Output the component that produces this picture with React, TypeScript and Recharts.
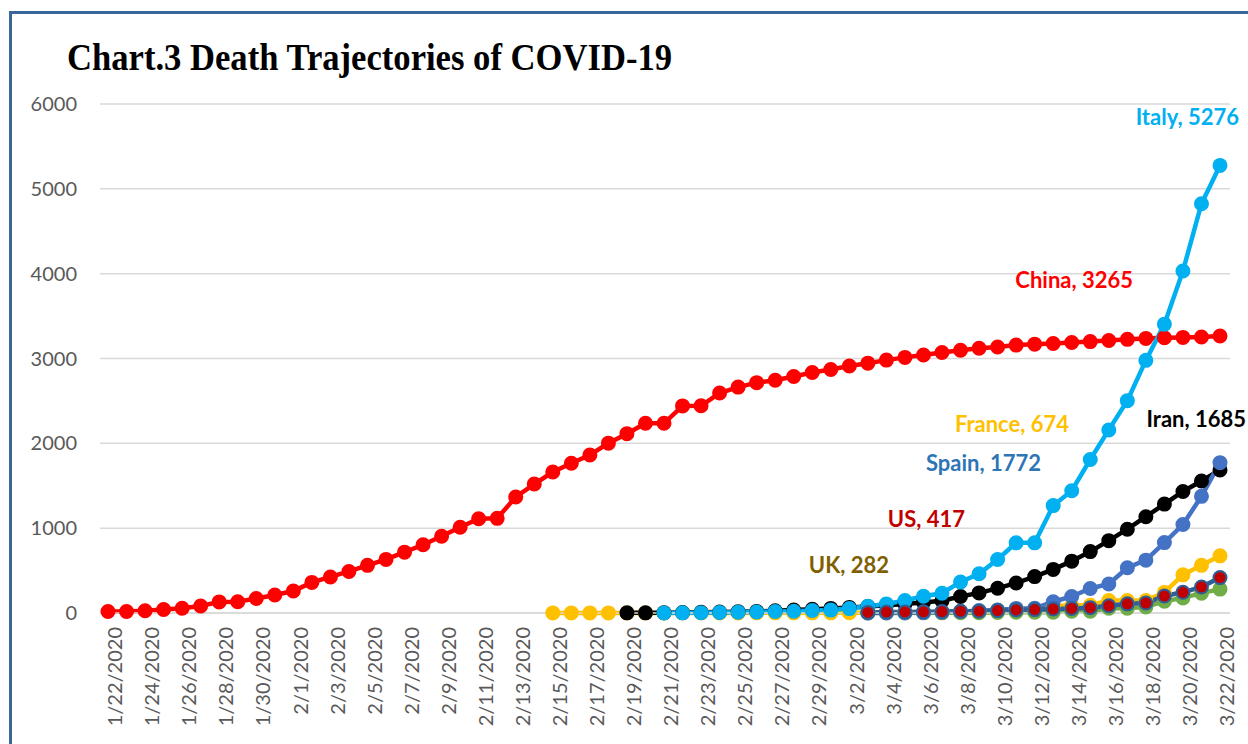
import { LineChart, Line, XAxis, YAxis, CartesianGrid, LabelList } from "recharts";

const DATES = [
  "1/22/2020", "1/23/2020", "1/24/2020", "1/25/2020", "1/26/2020", "1/27/2020", "1/28/2020", "1/29/2020", "1/30/2020", "1/31/2020",
  "2/1/2020", "2/2/2020", "2/3/2020", "2/4/2020", "2/5/2020", "2/6/2020", "2/7/2020", "2/8/2020", "2/9/2020", "2/10/2020",
  "2/11/2020", "2/12/2020", "2/13/2020", "2/14/2020", "2/15/2020", "2/16/2020", "2/17/2020", "2/18/2020", "2/19/2020", "2/20/2020",
  "2/21/2020", "2/22/2020", "2/23/2020", "2/24/2020", "2/25/2020", "2/26/2020", "2/27/2020", "2/28/2020", "2/29/2020",
  "3/1/2020", "3/2/2020", "3/3/2020", "3/4/2020", "3/5/2020", "3/6/2020", "3/7/2020", "3/8/2020", "3/9/2020", "3/10/2020",
  "3/11/2020", "3/12/2020", "3/13/2020", "3/14/2020", "3/15/2020", "3/16/2020", "3/17/2020", "3/18/2020", "3/19/2020", "3/20/2020",
  "3/21/2020", "3/22/2020",
];

const Y_TICKS = [0, 1000, 2000, 3000, 4000, 5000, 6000];

// from 1/22
const CHINA = [
  17, 18, 26, 42, 56, 82, 131, 133, 171, 213,
  259, 361, 425, 490, 562, 632, 717, 804, 904, 1011,
  1111, 1116, 1368, 1520, 1662, 1765, 1863, 2002, 2114, 2236,
  2236, 2441, 2443, 2593, 2663, 2715, 2744, 2788, 2835,
  2870, 2912, 2945, 2981, 3013, 3042, 3070, 3097, 3120, 3136,
  3158, 3169, 3176, 3189, 3199, 3213, 3226, 3237, 3245, 3249,
  3253, 3265,
];
// from 2/15
const FRANCE = [
  1, 1, 1, 1, 1, 1, 1, 1, 1, 1, 1, 2, 2, 2, 2,
  2, 3, 4, 4, 6, 9, 11, 19, 19, 33, 48, 48, 79, 91, 91, 148, 148, 148, 243, 450, 562, 674,
];
// from 2/19
const IRAN = [
  2, 2, 4, 5, 8, 12, 16, 19, 26, 34, 43,
  54, 66, 77, 92, 107, 124, 145, 194, 237, 291, 354, 429, 514, 611, 724, 853, 988, 1135, 1284, 1433, 1556, 1685,
];
// from 2/21
const ITALY = [
  1, 2, 3, 7, 10, 12, 17, 21, 29,
  34, 52, 79, 107, 148, 197, 233, 366, 463, 631, 827, 827, 1266, 1441, 1809, 2158, 2503, 2978, 3405, 4032, 4825, 5276,
];
// from 3/3
const SPAIN = [1, 2, 3, 5, 10, 17, 28, 35, 54, 55, 133, 195, 289, 342, 533, 623, 830, 1043, 1375, 1772];
const US = [7, 11, 12, 14, 17, 21, 22, 28, 36, 40, 47, 54, 63, 85, 108, 118, 200, 244, 307, 417];
const UK = [0, 0, 1, 2, 2, 3, 4, 6, 8, 8, 8, 21, 21, 56, 56, 72, 138, 178, 234, 282];

const pad = (start: string, values: number[]) => {
  const i = DATES.indexOf(start);
  return DATES.map((_, k) => (k >= i ? values[k - i] : null));
};

const SERIES = [
  { key: "China", values: pad("1/22/2020", CHINA), color: "#FF0000", dotFill: "#FF0000", labelColor: "#FF0000", dx: -87, dy: -48, anchor: "end" },
  { key: "France", values: pad("2/15/2020", FRANCE), color: "#FFC000", dotFill: "#FFC000", labelColor: "#FFC000", dx: -151, dy: -124, anchor: "end" },
  { key: "Iran", values: pad("2/19/2020", IRAN), color: "#000000", dotFill: "#000000", labelColor: "#000000", dx: 26, dy: -43, anchor: "end" },
  { key: "Italy", values: pad("2/21/2020", ITALY), color: "#00B0F0", dotFill: "#00B0F0", labelColor: "#00B0F0", dx: 19, dy: -40, anchor: "end" },
  { key: "UK", values: pad("3/3/2020", UK), color: "#70AD47", dotFill: "#70AD47", labelColor: "#7F6000", dx: -331, dy: -16, anchor: "end" },
  { key: "Spain", values: pad("3/3/2020", SPAIN), color: "#4472C4", dotFill: "#4472C4", labelColor: "#2E75B6", dx: -179, dy: 8, anchor: "end" },
  { key: "US", values: pad("3/3/2020", US), color: "#2E5F95", dotFill: "#C00000", labelColor: "#C00000", dx: -255, dy: -51, anchor: "end" },
];

const data = DATES.map((d, i) => {
  const row: Record<string, string | number | null> = { date: d };
  SERIES.forEach((s) => (row[s.key] = s.values[i]));
  return row;
});

const LAST = DATES.length - 1;

function endLabel(s: (typeof SERIES)[number]) {
  return (p: any) => {
    if (p.index !== LAST) return null;
    return (
      <text
        x={p.x + s.dx}
        y={p.y + s.dy}
        textAnchor={s.anchor}
        fill={s.labelColor}
        fontFamily="Lato"
        fontWeight={700}
        fontSize={22}
      >
        {`${s.key}, ${p.value}`}
      </text>
    );
  };
}

export default function App() {
  return (
    <div style={{ position: "absolute", left: 0, top: 0, width: 1248, height: 744, background: "#fff", overflow: "hidden" }}>
      <div
        style={{
          position: "absolute",
          left: 9,
          top: 11,
          width: 1248,
          height: 744,
          borderLeft: "3px solid #3A6699",
          borderTop: "3px solid #3A6699",
        }}
      />
      <svg style={{ position: "absolute", left: 0, top: 0 }} width={1248} height={100}>
        <text
          x={67}
          y={70}
          fontFamily="Liberation Serif"
          fontWeight={700}
          fontSize={37}
          textLength={605}
          lengthAdjust="spacingAndGlyphs"
          fill="#000"
        >
          Chart.3 Death Trajectories of COVID-19
        </text>
      </svg>
      <div style={{ position: "absolute", left: 0, top: 0 }}>
        <LineChart width={1248} height={744} data={data} margin={{ top: 104, right: 18, bottom: 0, left: 0 }}>
          <CartesianGrid vertical={false} stroke="#D9D9D9" strokeWidth={1.5} />
          <XAxis
            dataKey="date"
            interval={1}
            padding={{ left: 8, right: 10 }}
            height={131}
            angle={-90}
            textAnchor="end"
            tickLine={false}
            axisLine={{ stroke: "#D9D9D9", strokeWidth: 1.5 }}
            tickMargin={8}
            tick={{ fill: "#595959", fontSize: 20, fontFamily: "Lato" }}
          />
          <YAxis
            width={100}
            domain={[0, 6000]}
            ticks={Y_TICKS}
            axisLine={false}
            tickLine={false}
            tickMargin={17}
            tick={{ fill: "#595959", fontSize: 20, fontFamily: "Lato" }}
          />
          {SERIES.map((s) => (
            <Line
              key={s.key}
              dataKey={s.key}
              stroke={s.color}
              strokeWidth={4.5}
              dot={{ r: 6.5, fill: s.dotFill, stroke: s.color, strokeWidth: 2 }}
              activeDot={false}
              isAnimationActive={false}
            >
              <LabelList dataKey={s.key} content={endLabel(s)} />
            </Line>
          ))}
        </LineChart>
      </div>
    </div>
  );
}
